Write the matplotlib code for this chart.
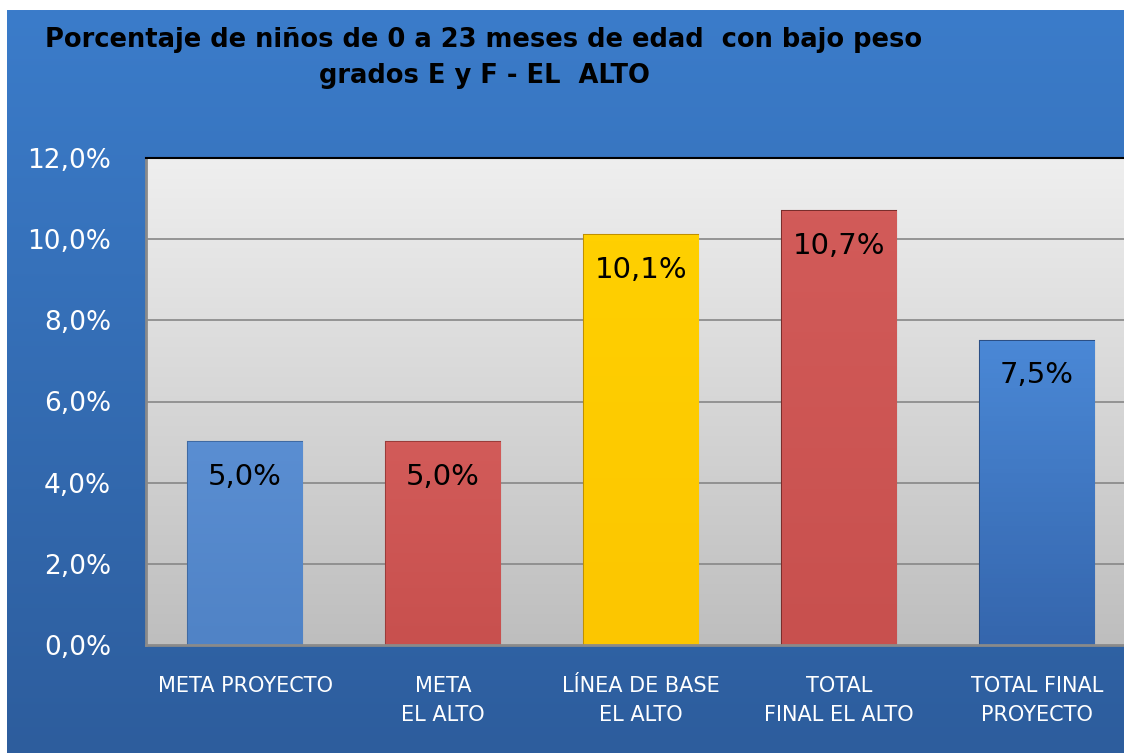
import matplotlib
matplotlib.use("Agg")
import matplotlib.pyplot as plt
import numpy as np
from matplotlib.colors import LinearSegmentedColormap

plt.rcParams["font.family"] = ["DejaVu Sans"]

categories = ["META PROYECTO", "META\nEL ALTO", "LÍNEA DE BASE\nEL ALTO",
              "TOTAL\nFINAL EL ALTO", "TOTAL FINAL\nPROYECTO"]
values = [5.0, 5.0, 10.1, 10.7, 7.5]
value_labels = ["5,0%", "5,0%", "10,1%", "10,7%", "7,5%"]
yticks = [0, 2, 4, 6, 8, 10, 12]
ytick_labels = ["0,0%", "2,0%", "4,0%", "6,0%", "8,0%", "10,0%", "12,0%"]
title = "Porcentaje de niños de 0 a 23 meses de edad  con bajo peso\ngrados E y F - EL  ALTO"

bar_top = ["#5a8ed2", "#d25b59", "#ffd000", "#d25b59", "#4a88d6"]
bar_bot = ["#5083c6", "#c8504e", "#fcc600", "#c8504e", "#3566ad"]
bar_edge = ["#3f6aa3", "#9a3c3a", "#c09000", "#7a2d2b", "#2b4f85"]

W, H = 1124, 753
fig = plt.figure(figsize=(W / 100, H / 100), dpi=100)
fig.patch.set_facecolor("white")

# blue gradient background
bg = fig.add_axes([7 / W, 0, 1 - 7 / W, (H - 10) / H])
bg.set_axis_off()
cmap_bg = LinearSegmentedColormap.from_list("bg", ["#3b7cca", "#2d5d9d"])
bg.imshow(np.linspace(0, 1, 256).reshape(-1, 1), aspect="auto", cmap=cmap_bg,
          extent=[0, 1, 0, 1], origin="upper")
bg.set_xlim(0, 1)
bg.set_ylim(0, 1)

# plot area
left, right, top, bottom = 146, 1136, 158, 645
ax = fig.add_axes([left / W, (H - bottom) / H, (right - left) / W, (bottom - top) / H])
ax.set_xlim(-0.5, len(categories) - 0.5)
ax.set_ylim(0, 12)
cmap_pa = LinearSegmentedColormap.from_list("pa", ["#efefef", "#bebebe"])
ax.imshow(np.linspace(0, 1, 256).reshape(-1, 1), aspect="auto", cmap=cmap_pa,
          extent=[-0.5, len(categories) - 0.5, 0, 12], origin="upper", zorder=0)

for y in yticks[1:-1]:
    ax.axhline(y, color="#878787", lw=1.2, zorder=1)

x = np.arange(len(categories))
bars = ax.bar(x, values, width=0.576, color=bar_top, edgecolor=bar_edge,
              linewidth=1.5, zorder=2)
for i, b in enumerate(bars):
    cm = LinearSegmentedColormap.from_list("b%d" % i, [bar_top[i], bar_bot[i]])
    im = ax.imshow(np.linspace(0, 1, 64).reshape(-1, 1), aspect="auto", cmap=cm,
                   extent=[b.get_x(), b.get_x() + b.get_width(), 0, b.get_height()],
                   origin="upper", zorder=2.5)
    im.set_clip_path(b)
    ax.annotate(value_labels[i], (b.get_x() + b.get_width() / 2, b.get_height()),
                xytext=(0, -15), textcoords="offset points", ha="center", va="top",
                fontsize=21, color="black", zorder=4, family="DejaVu Sans")

ax.set_xlim(-0.5, len(categories) - 0.5)
ax.set_ylim(0, 12)
ax.set_yticks(yticks)
ax.set_yticklabels(ytick_labels, color="white", fontsize=19, family="DejaVu Sans")
ax.set_xticks(x)
ax.set_xticklabels(categories, color="white", fontsize=15, linespacing=1.6,
                   family="DejaVu Sans")
ax.tick_params(axis="y", length=0, pad=25)
ax.tick_params(axis="x", length=0, pad=22)
ax.spines["right"].set_visible(False)
ax.spines["top"].set_color("black")
ax.spines["top"].set_linewidth(1.5)
ax.spines["left"].set_color("#8a8a8a")
ax.spines["left"].set_linewidth(2)
ax.spines["bottom"].set_color("#8a8a8a")
ax.spines["bottom"].set_linewidth(2)

fig.text(484 / W, 1 - 27 / H, title, ha="center", va="top", fontsize=18.5,
         fontweight="bold", family="DejaVu Sans", color="black",
         linespacing=1.5, multialignment="center")

fig.savefig("out.png", dpi=100, facecolor=fig.get_facecolor())
